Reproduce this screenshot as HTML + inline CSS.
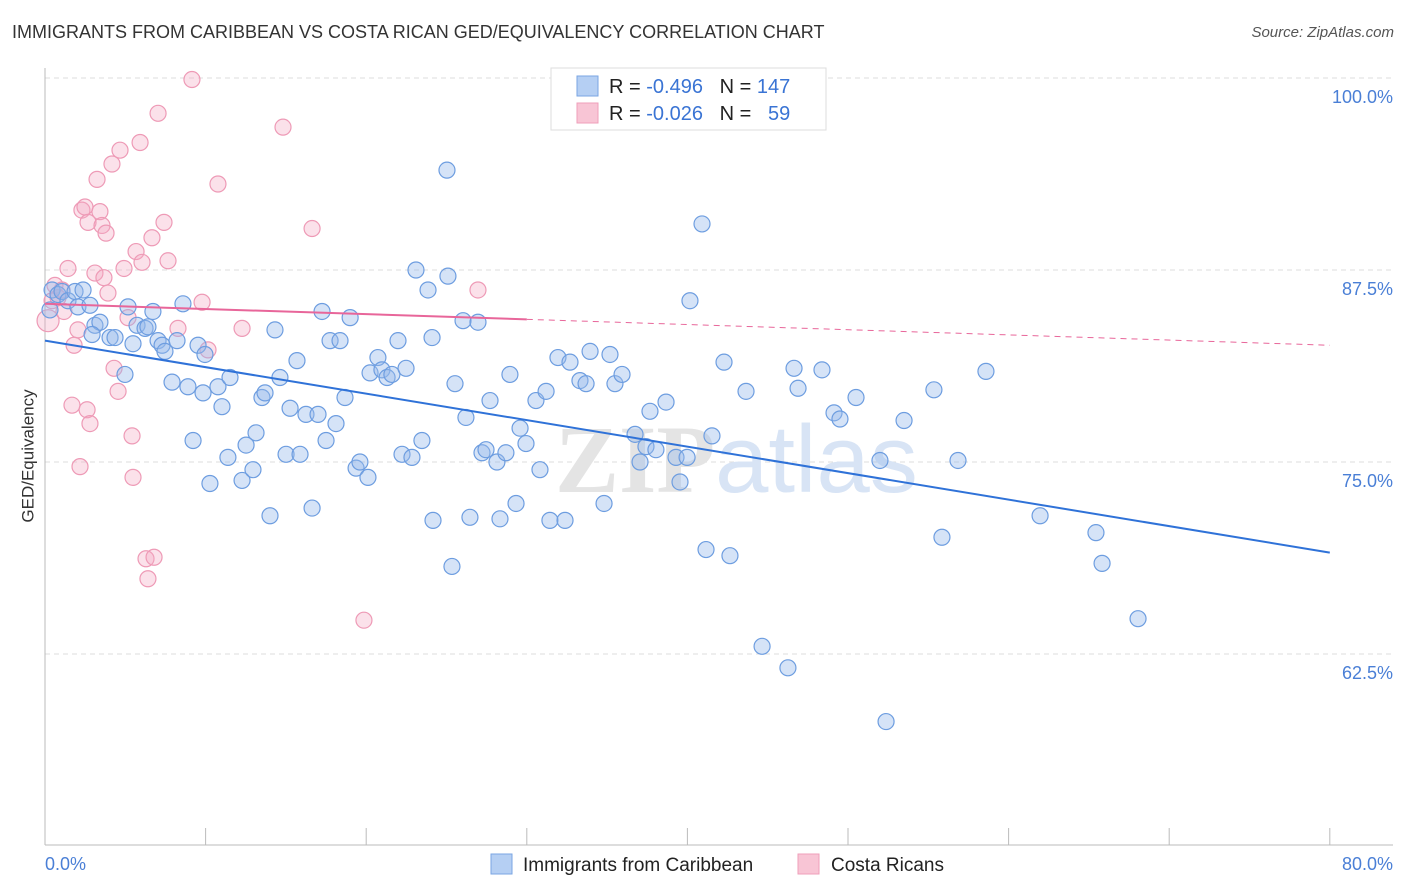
<!DOCTYPE html>
<html><head><meta charset="utf-8"><style>
body{margin:0;background:#fff;font-family:"Liberation Sans",sans-serif;}
#wrap{position:relative;width:1406px;height:892px;overflow:hidden;}
.t{position:absolute;white-space:nowrap;}
</style></head><body>
<div id="wrap">
<div class="t" style="left:12px;top:22px;font-size:18px;color:#333;">IMMIGRANTS FROM CARIBBEAN VS COSTA RICAN GED/EQUIVALENCY CORRELATION CHART</div>
<div class="t" style="right:12px;top:24px;font-size:15px;color:#555;font-style:italic;">Source: ZipAtlas.com</div>
<div class="t" style="left:-38px;top:446px;font-size:17px;color:#333;transform:rotate(-90deg);">GED/Equivalency</div>
<svg id="svg" width="1406" height="892" style="position:absolute;left:0;top:0"></svg>
</div>
<script>
const blueX=[0.44,0.81,0.31,1.06,1.43,1.87,2.37,2.05,2.8,3.11,3.42,2.93,4.05,4.36,4.98,5.17,5.48,5.73,6.23,6.41,6.72,7.04,7.29,7.47,7.91,8.22,8.59,8.9,9.22,9.53,9.96,9.84,10.27,10.77,11.02,11.52,11.39,12.27,12.52,12.95,13.14,13.51,13.7,14.01,14.32,14.63,15.01,15.26,15.69,15.88,16.25,16.63,17.0,17.25,17.5,17.75,18.12,18.37,18.68,19.0,19.37,19.61,20.11,20.24,20.73,20.98,21.3,21.6,21.98,22.23,22.48,22.85,23.1,23.47,23.85,24.1,24.16,25.03,25.09,25.34,25.53,26.03,26.21,26.46,26.96,27.21,27.46,27.71,28.14,28.33,28.7,28.95,29.33,29.58,29.95,30.57,30.82,31.2,31.44,31.94,32.38,32.69,33.31,33.69,33.94,34.81,35.18,35.49,35.93,36.74,37.05,37.42,37.67,38.04,38.67,39.29,39.54,39.98,40.16,40.91,41.16,41.53,42.28,42.65,43.65,44.65,46.26,46.64,46.89,48.38,49.13,49.5,50.5,51.99,52.37,53.49,55.35,55.85,56.85,58.59,61.96,65.44,65.82,68.06];
const blueY=[86.2,85.9,84.9,86.1,85.5,86.1,86.2,85.1,85.2,83.9,84.1,83.3,83.1,83.1,80.7,85.1,82.7,83.9,83.7,83.8,84.8,82.9,82.6,82.2,80.2,82.9,85.3,79.9,76.4,82.6,82.0,79.5,73.6,79.9,78.6,80.5,75.3,73.8,76.1,74.5,76.9,79.2,79.5,71.5,83.6,80.5,75.5,78.5,81.6,75.5,78.1,72.0,78.1,84.8,76.4,82.9,77.5,82.9,79.2,84.4,74.6,75.0,74.0,80.8,81.8,81.0,80.5,80.7,82.9,75.5,81.1,75.3,87.5,76.4,86.2,83.1,71.2,94.0,87.1,68.2,80.1,84.2,77.9,71.4,84.1,75.6,75.8,79.0,75.0,71.3,75.6,80.7,72.3,77.2,76.2,79.0,74.5,79.6,71.2,81.8,71.2,81.5,80.3,80.1,82.2,72.3,82.0,80.1,80.7,76.8,75.0,76.0,78.3,75.8,78.9,75.3,73.7,75.3,85.5,90.5,69.3,76.7,81.5,68.9,79.6,63.0,61.6,81.1,79.8,81.0,78.2,77.8,79.2,75.1,58.1,77.7,79.7,70.1,75.1,80.9,71.5,70.4,68.4,64.8];
const pinkX=[0.19,0.44,0.62,0.81,1.06,1.18,1.43,1.68,1.81,2.05,2.18,2.3,2.49,2.68,2.62,2.8,3.11,3.24,3.42,3.55,3.67,3.8,3.92,4.17,4.3,4.55,4.67,4.92,5.17,5.42,5.48,5.67,5.92,6.04,6.29,6.41,6.66,6.79,7.04,7.41,7.66,8.28,9.15,9.78,10.15,10.77,12.27,14.82,16.63,19.86,26.96];
const pinkY=[84.2,85.5,86.5,85.7,86.2,84.8,87.6,78.7,82.6,83.6,74.7,91.4,91.6,90.6,78.4,77.5,87.3,93.4,91.3,90.4,87.0,89.9,86.0,94.4,81.1,79.6,95.3,87.6,84.4,76.7,74.0,88.7,95.8,88.0,68.7,67.4,89.6,68.8,97.7,90.6,88.1,83.7,99.9,85.4,82.3,93.1,83.7,96.8,90.2,64.7,86.2];
const blueTrend=[82.9,69.1];   // value at x=0 and x=80
const pinkTrend=[85.3,82.6];
const pinkSolidEnd=30;
const yTicks=[100,87.5,75,62.5];
const yTickLabels=["100.0%","87.5%","75.0%","62.5%"];
const xTicks=[0,10,20,30,40,50,60,70,80];

const NS="http://www.w3.org/2000/svg";
const svg=document.getElementById('svg');
const X=v=>45+v*16.06, Y=v=>78+(100-v)*15.36;
function mk(tag,attrs,parent){const e=document.createElementNS(NS,tag);for(const k in attrs)e.setAttribute(k,attrs[k]);(parent||svg).appendChild(e);return e;}

yTicks.forEach((t,i)=>{
  const g=mk('line',{x1:45,x2:1393,y1:Y(t),y2:Y(t),stroke:'#ddd','stroke-dasharray':'5,4'});
  
  
  const tx=mk('text',{x:1393,y:Y(t)+25,'text-anchor':'end','font-size':18,fill:'#4a7fd6','font-family':'Liberation Sans'});
  tx.textContent=yTickLabels[i];
  
  
});
const ax=mk('line',{x1:45,x2:45,y1:68,y2:845,stroke:'#bbb'});


const bx=mk('line',{x1:45,x2:1393,y1:845,y2:845,stroke:'#bbb'});


xTicks.forEach(t=>{
  const l=mk('line',{x1:X(t),x2:X(t),y1:828,y2:845,stroke:'#bbb'});
  
  
});
const xl0=mk('text',{x:45,y:870,'font-size':18,fill:'#4a7fd6','font-family':'Liberation Sans'});xl0.textContent='0.0%';


const xl1=mk('text',{x:1393,y:870,'text-anchor':'end','font-size':18,fill:'#4a7fd6','font-family':'Liberation Sans'});xl1.textContent='80.0%';



const wm=mk('text',{x:555,y:492,'font-size':96,fill:'#e4e4e4','font-family':'Liberation Serif','font-weight':'bold'});
wm.innerHTML='ZIP<tspan fill="#d8e4f5" font-family="Liberation Sans" font-weight="normal">atlas</tspan>';



pinkX.forEach((x,i)=>{
  const c=mk('circle',{cx:X(x),cy:Y(pinkY[i]),r:i==0?11:8,fill:'rgba(244,170,195,0.35)',stroke:'#ee9ab6','stroke-width':1.2});
  
  
});
blueX.forEach((x,i)=>{
  const c=mk('circle',{cx:X(x),cy:Y(blueY[i]),r:8,fill:'rgba(150,185,235,0.4)',stroke:'#6d9de0','stroke-width':1.2});
  
  
});
const bl=mk('line',{x1:X(0),y1:Y(blueTrend[0]),x2:X(80),y2:Y(blueTrend[1]),stroke:'#2f72d8','stroke-width':2});


const pAt=x=>pinkTrend[0]+(pinkTrend[1]-pinkTrend[0])*x/80;
const pl=mk('line',{x1:X(0),y1:Y(pAt(0)),x2:X(pinkSolidEnd),y2:Y(pAt(pinkSolidEnd)),stroke:'#e8669a','stroke-width':2});


const pd=mk('line',{x1:X(pinkSolidEnd),y1:Y(pAt(pinkSolidEnd)),x2:X(80),y2:Y(pAt(80)),stroke:'#e8669a','stroke-width':1,'stroke-dasharray':'6,5'});



// top legend
const lg=mk('g',{});


mk('rect',{x:551,y:68,width:275,height:62,fill:'#fff',stroke:'#ddd'},lg);
mk('rect',{x:577,y:76,width:21,height:20,fill:'#b5cff3',stroke:'#7aa6e3'},lg);
mk('rect',{x:577,y:103,width:21,height:20,fill:'#f8c5d5',stroke:'#ef9fba'},lg);
const t1=mk('text',{x:609,y:93,'font-size':20,fill:'#222','font-family':'Liberation Sans'},lg);
t1.innerHTML='R = <tspan fill="#3a74d4">-0.496</tspan>   N = <tspan fill="#3a74d4">147</tspan>';
t1.setAttribute('xml:space','preserve');
const t2=mk('text',{x:609,y:120,'font-size':20,fill:'#222','font-family':'Liberation Sans'},lg);
t2.innerHTML='R = <tspan fill="#3a74d4">-0.026</tspan>   N = <tspan fill="#3a74d4">  59</tspan>';
t2.setAttribute('xml:space','preserve');
t1.setAttribute('style','white-space:pre');t2.setAttribute('style','white-space:pre');

// bottom legend
const b1=mk('rect',{x:491,y:854,width:21,height:20,fill:'#b5cff3',stroke:'#7aa6e3'});


const bt1=mk('text',{x:523,y:871,'font-size':19,fill:'#222','font-family':'Liberation Sans'});bt1.textContent='Immigrants from Caribbean';


const b2=mk('rect',{x:798,y:854,width:21,height:20,fill:'#f8c5d5',stroke:'#ef9fba'});


const bt2=mk('text',{x:831,y:871,'font-size':19,fill:'#222','font-family':'Liberation Sans'});bt2.textContent='Costa Ricans';


</script>
</body></html>
